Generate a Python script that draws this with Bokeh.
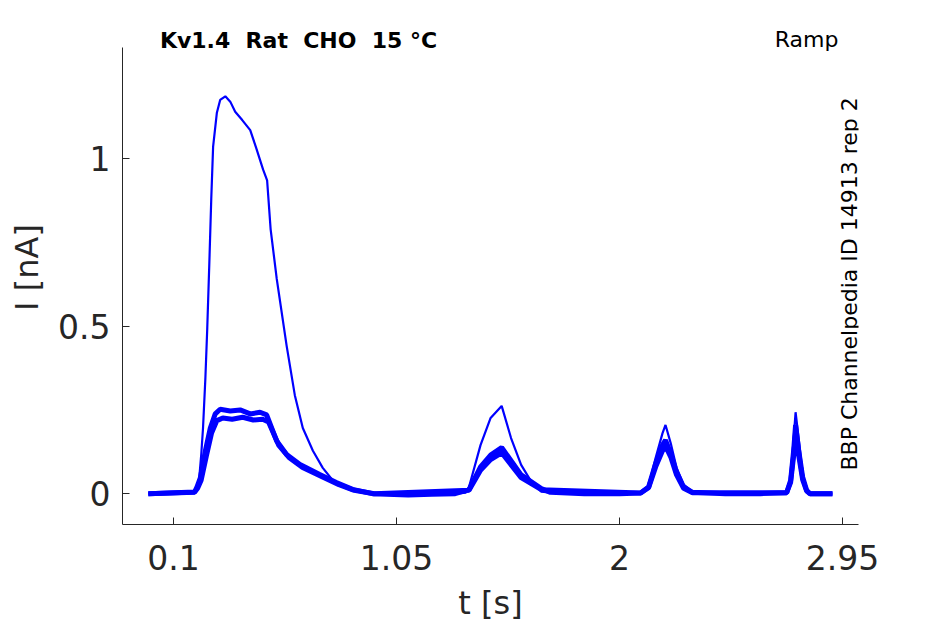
import math
from bokeh.plotting import figure
from bokeh.models import Range1d, FixedTicker, Label
from bokeh.embed import file_html
from bokeh.resources import INLINE

# ---- data ----
# trace with large first response
t_big = [-0.007, 0.19, 0.1975, 0.210, 0.219, 0.226, 0.236, 0.244, 0.253, 0.261, 0.269, 0.285,
         0.299, 0.321, 0.342, 0.363, 0.393, 0.427, 0.452, 0.482, 0.499, 0.514, 0.540, 0.582,
         0.617, 0.651, 0.694, 0.736, 0.778, 0.838, 0.893, 0.978, 1.10, 1.20, 1.30, 1.345,
         1.359, 1.408, 1.451, 1.498, 1.538, 1.581, 1.624, 1.667, 1.75, 1.90, 2.05, 2.090,
         2.124, 2.154, 2.183, 2.196, 2.218, 2.243, 2.273, 2.311, 2.45, 2.60, 2.712, 2.729,
         2.742, 2.750, 2.763, 2.780, 2.797, 2.811, 2.907]
i_big = [0.0, 0.004, 0.012, 0.047, 0.122, 0.196, 0.344, 0.493, 0.691, 0.878, 1.036, 1.137,
         1.175, 1.186, 1.170, 1.140, 1.115, 1.085, 1.033, 0.967, 0.935, 0.789, 0.641, 0.442,
         0.294, 0.196, 0.128, 0.077, 0.040, 0.020, 0.009, 0.0, -0.004, -0.002, 0.0, 0.003,
         0.020, 0.145, 0.226, 0.262, 0.166, 0.086, 0.036, 0.006, 0.0, 0.0, 0.0, 0.003,
         0.024, 0.107, 0.180, 0.205, 0.151, 0.077, 0.027, 0.006, 0.0, 0.0, 0.003, 0.047,
         0.166, 0.243, 0.166, 0.062, 0.012, 0.0, 0.0]

# traces with small first response
t_small1 = [-0.007, 0.19, 0.2005, 0.2145, 0.236, 0.257, 0.278, 0.299, 0.342, 0.384, 0.427,
            0.469, 0.497, 0.540, 0.582, 0.639, 0.723, 0.794, 0.863, 0.948, 1.10, 1.20, 1.30,
            1.359, 1.408, 1.451, 1.498, 1.581, 1.667, 1.706, 1.85, 2.0, 2.090, 2.124, 2.154,
            2.183, 2.196, 2.218, 2.243, 2.273, 2.311, 2.45, 2.60, 2.712, 2.729, 2.742, 2.750,
            2.763, 2.780, 2.797, 2.811, 2.907]
i_small1 = [0.0, 0.005, 0.020, 0.047, 0.128, 0.196, 0.238, 0.252, 0.247, 0.250, 0.238,
            0.243, 0.235, 0.157, 0.117, 0.087, 0.057, 0.033, 0.013, 0.0, -0.004, -0.002, 0.0,
            0.012, 0.080, 0.115, 0.138, 0.056, 0.015, 0.004, 0.0, 0.0, 0.002, 0.020, 0.090,
            0.145, 0.160, 0.120, 0.065, 0.020, 0.004, 0.0, 0.0, 0.003, 0.040, 0.130, 0.205,
            0.130, 0.050, 0.010, 0.0, 0.0]

t_small2 = [-0.007, 0.19, 0.203, 0.218, 0.240, 0.262, 0.285, 0.310, 0.350, 0.395, 0.440,
            0.480, 0.505, 0.548, 0.592, 0.650, 0.735, 0.805, 0.870, 0.955, 1.359, 1.408,
            1.451, 1.498, 1.581, 1.667, 2.090, 2.124, 2.154, 2.183, 2.196, 2.218, 2.243,
            2.273, 2.311, 2.712, 2.729, 2.742, 2.750, 2.763, 2.780, 2.797, 2.811, 2.907]
i_small2 = [0.0, 0.004, 0.016, 0.040, 0.112, 0.180, 0.218, 0.226, 0.222, 0.228, 0.220,
            0.222, 0.214, 0.145, 0.108, 0.078, 0.050, 0.027, 0.010, 0.0, 0.010, 0.070,
            0.102, 0.122, 0.048, 0.012, 0.002, 0.018, 0.080, 0.128, 0.142, 0.110, 0.056,
            0.016, 0.003, 0.003, 0.034, 0.115, 0.180, 0.115, 0.042, 0.008, 0.0, 0.0]

x_ticks = [0.1, 1.05, 2, 2.95]
x_tick_labels = ["0.1", "1.05", "2", "2.95"]
y_ticks = [0, 0.5, 1]
y_tick_labels = ["0", "0.5", "1"]

title_text = "Kv1.4 \u00a0Rat \u00a0CHO \u00a015 °C"
protocol_text = "Ramp"
source_text = "BBP Channelpedia ID 14913 rep 2"

# ---- figure ----
FONT = "DejaVu Sans"
TXT = "#262626"
Y_AXIS_TOP = 1.332

p = figure(width=945, height=624, x_range=Range1d(-0.117, 3.018), y_range=Range1d(-0.092, 1.442),
           output_backend="svg", toolbar_location=None,
           min_border_left=122, min_border_right=87, min_border_top=10, min_border_bottom=97)
p.outline_line_color = None
p.grid.visible = False
p.background_fill_color = "white"
p.border_fill_color = "white"

blue = "#0000ff"
p.line(t_small2, i_small2, line_color=blue, line_width=5)
p.line(t_small1, i_small1, line_color=blue, line_width=5)
p.line(t_big, i_big, line_color=blue, line_width=2.2)

for ax in (p.xaxis[0], p.yaxis[0]):
    ax.axis_line_color = TXT
    ax.major_tick_line_color = TXT
    ax.minor_tick_line_color = None
    ax.major_tick_in = 7
    ax.major_tick_out = 0
    ax.major_label_text_font = FONT
    ax.major_label_text_font_size = "33px"
    ax.major_label_text_color = TXT
    ax.axis_label_text_font = FONT
    ax.axis_label_text_font_size = "32px"
    ax.axis_label_text_color = TXT
    ax.axis_label_text_font_style = "normal"

p.xaxis.ticker = FixedTicker(ticks=x_ticks)
p.xaxis.major_label_overrides = dict(zip(x_ticks, x_tick_labels))
p.xaxis.axis_label = "t [s]"
p.xaxis.major_label_standoff = 20
p.xaxis.axis_label_standoff = 11

p.yaxis.ticker = FixedTicker(ticks=y_ticks)
p.yaxis.major_label_overrides = dict(zip(y_ticks, y_tick_labels))
p.yaxis.axis_label = "I [nA]"
p.yaxis.major_label_standoff = 12
p.yaxis.axis_label_standoff = 9
p.yaxis.bounds = (-0.092, Y_AXIS_TOP)

p.add_layout(Label(x=0.633, y=1.353, text=title_text, text_font=FONT, text_font_size="22px",
                   text_font_style="bold", text_color="black", text_align="center",
                   text_baseline="middle"))
p.add_layout(Label(x=2.797, y=1.356, text=protocol_text, text_font=FONT, text_font_size="22px",
                   text_color="black", text_align="center", text_baseline="middle"))
p.add_layout(Label(x=2.981, y=0.626, text=source_text, text_font=FONT, text_font_size="22px",
                   text_color="black", text_align="center", text_baseline="middle",
                   angle=math.pi / 2))

open("out.html", "w").write(file_html(p, INLINE))
